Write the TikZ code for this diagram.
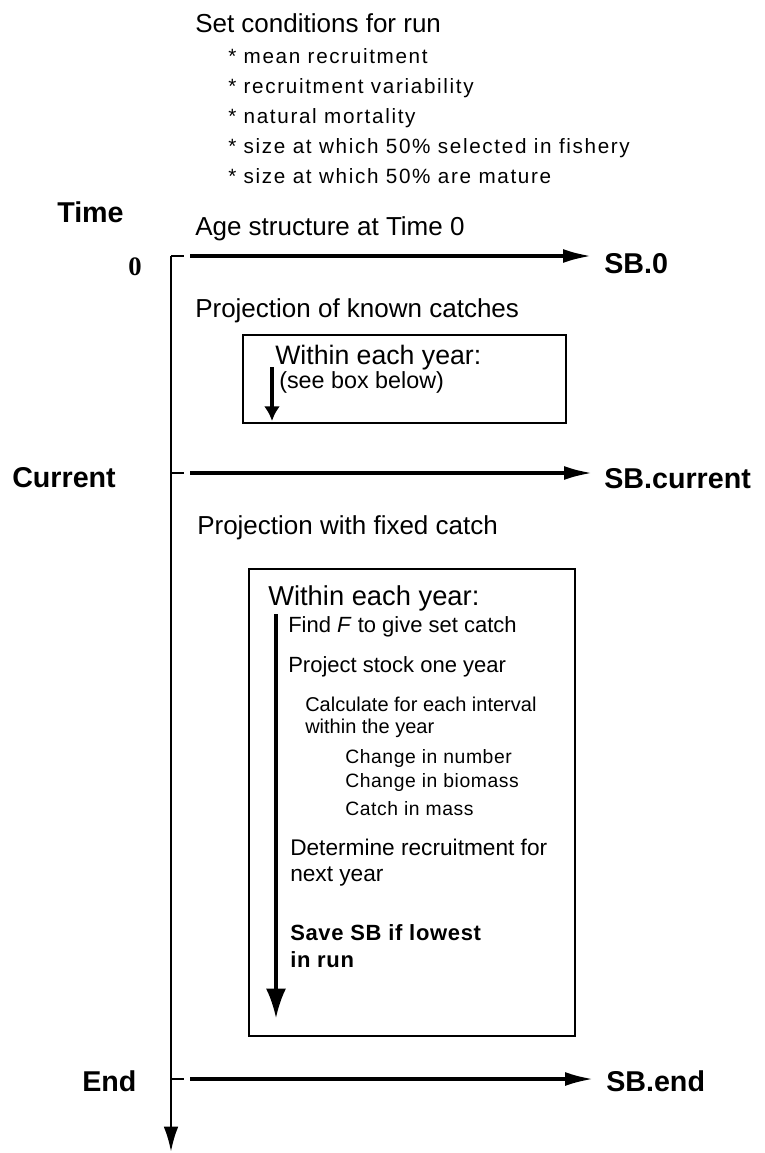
\documentclass[tikz,border=0pt]{standalone}
\usepackage{fontspec}
\setmainfont{Liberation Sans}
\newfontfamily\timesfont{Liberation Serif}
\usetikzlibrary{arrows.meta}
\begin{document}
\begin{tikzpicture}[x=0.75pt,y=-0.75pt,
  big/.style={anchor=base west,inner sep=0pt,font=\fontsize{19.5}{22}\selectfont},
  bullet/.style={anchor=base west,inner sep=0pt,font=\fontsize{15.5}{18}\selectfont\addfontfeature{LetterSpace=8}},
  mid/.style={anchor=base west,inner sep=0pt,font=\fontsize{16.5}{19}\selectfont},
  calc/.style={anchor=base west,inner sep=0pt,font=\fontsize{15}{17}\selectfont},
  chg/.style={anchor=base west,inner sep=0pt,font=\fontsize{14.5}{17}\selectfont\addfontfeature{LetterSpace=3}},
  lab/.style={anchor=base west,inner sep=0pt,font=\fontsize{21.5}{25}\selectfont\bfseries},
  boldmid/.style={anchor=base west,inner sep=0pt,font=\fontsize{16.5}{19}\selectfont\bfseries\addfontfeature{LetterSpace=3}},
  hline/.style={line width=2.3pt,-{Latex[length=21pt,width=10.5pt]}},
  tick/.style={line width=2pt},
  axis/.style={line width=2pt,-{Latex[length=19pt,width=11pt]}},
  boxframe/.style={draw,line width=2pt},
  inarrow/.style={line width=2.3pt,-{Latex[length=22pt,width=15pt]}},
  smallarrow/.style={line width=2.3pt,-{Latex[length=11pt,width=12pt]}}]
\useasboundingbox (0,0) rectangle (764,1153);

% conditions
\node[big] (title) at (195,32) {Set conditions for run};
\node[bullet] (b1) at (228,63) {* mean recruitment};
\node[bullet] (b2) at (228,93) {* recruitment variability};
\node[bullet] (b3) at (228,123) {* natural mortality};
\node[bullet] (b4) at (228,153) {* size at which 50\% selected in fishery};
\node[bullet] (b5) at (228,183) {* size at which 50\% are mature};

% time axis labels
\node[lab] (time) at (57,222) {Time};
\node[anchor=base west,inner sep=0pt,font=\fontsize{20}{24}\timesfont\bfseries] (zero) at (128,275) {0};
\node[lab] (current) at (12,487) {Current};
\node[lab] (endl) at (82,1091) {End};

% axis
\coordinate (top) at (171,256);
\coordinate (bot) at (171,1152);
\draw[axis] (top) -- (bot);

% row 0
\coordinate (t0) at (184,256);
\coordinate (s0) at (190,256);
\coordinate (e0) at (591,256);
\draw[tick] (top) -- (t0);
\draw[hline] (s0) -- (e0);
\node[lab] (sb0) at (604,273) {SB.0};
\node[big] (age) at (195,235) {Age structure at Time 0};

% known catches
\node[big] (known) at (195,317) {Projection of known catches};
\draw[boxframe] (243,335) rectangle (566,423);
\node[big,font=\fontsize{20}{23}\selectfont] (w1) at (275,364) {Within each year:};
\node[mid,font=\fontsize{17.5}{20}\selectfont] (see) at (279,388) {(see box below)};
\coordinate (a1s) at (272,367);
\coordinate (a1e) at (272,421);
\draw[smallarrow] (a1s) -- (a1e);

% current row
\coordinate (c0) at (171,473);
\coordinate (c1) at (184,473);
\coordinate (cs) at (190,473);
\coordinate (ce) at (592,473);
\draw[tick] (c0) -- (c1);
\draw[hline] (cs) -- (ce);
\node[lab] (sbc) at (604,488) {SB.current};

% fixed catch
\node[big] (fixed) at (197,534) {Projection with fixed catch};
\draw[boxframe] (249,569) rectangle (575,1036);
\node[big,font=\fontsize{20.5}{23}\selectfont] (w2) at (268,605) {Within each year:};
\node[mid] (findf) at (288,632) {Find \textit{F} to give set catch};
\node[mid] (proj) at (288,672) {Project stock one year};
\node[calc] (calc1) at (305,711) {Calculate for each interval};
\node[calc] (calc2) at (305,733) {within the year};
\node[chg] (ch1) at (345,763) {Change in number};
\node[chg] (ch2) at (345,787) {Change in biomass};
\node[chg] (ch3) at (345,815) {Catch in mass};
\node[mid,font=\fontsize{17}{20}\selectfont] (det1) at (290,855) {Determine recruitment for};
\node[mid,font=\fontsize{17}{20}\selectfont] (det2) at (290,881) {next year};
\node[boldmid] (save1) at (290,940) {Save SB if lowest};
\node[boldmid] (save2) at (290,967) {in run};
\coordinate (a2s) at (276,614);
\coordinate (a2e) at (276,1018);
\draw[inarrow] (a2s) -- (a2e);

% end row
\coordinate (n0) at (171,1079);
\coordinate (n1) at (184,1079);
\coordinate (ns) at (190,1079);
\coordinate (ne) at (593,1079);
\draw[tick] (n0) -- (n1);
\draw[hline] (ns) -- (ne);
\node[lab] (sbe) at (606,1091) {SB.end};
\end{tikzpicture}
\end{document}
